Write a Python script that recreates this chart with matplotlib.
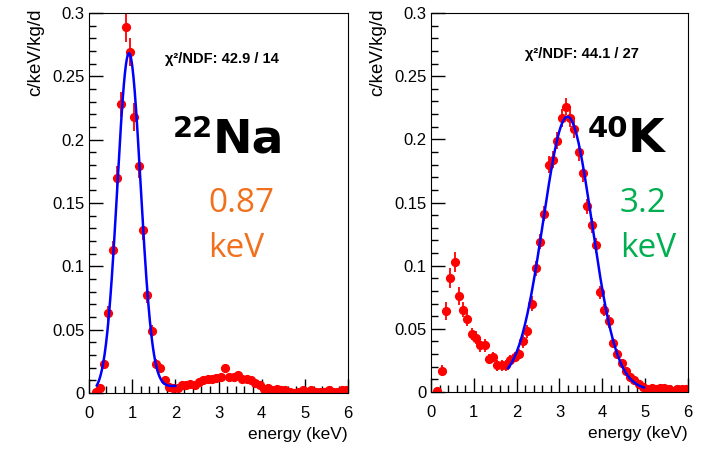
import numpy as np
import matplotlib.pyplot as plt
from matplotlib.ticker import MultipleLocator, FuncFormatter

# bin centres (0.1 keV bins)
energy = np.round(np.arange(0.15, 6.0, 0.1), 2)

na22_rate = [0.001, 0.004, 0.023, 0.063, 0.113, 0.170, 0.228, 0.289, 0.269, 0.218,
             0.179, 0.129, 0.077, 0.049, 0.023, 0.020, 0.010, 0.005, 0.004, 0.004,
             0.006, 0.006, 0.007, 0.006, 0.009, 0.010, 0.011, 0.011, 0.012, 0.013,
             0.020, 0.013, 0.013, 0.014, 0.011, 0.011, 0.010, 0.008, 0.006, 0.003,
             0.004, 0.002, 0.003, 0.002, 0.002, 0.001, 0.000, 0.001, 0.002, 0.001,
             0.002, 0.001, 0.001, 0.001, 0.002, 0.001, 0.001, 0.002, 0.002]
na22_err = [0.001, 0.002, 0.004, 0.006, 0.007, 0.009, 0.010, 0.012, 0.011, 0.011,
            0.009, 0.008, 0.006, 0.005, 0.004, 0.003, 0.002, 0.002, 0.002, 0.002,
            0.002, 0.002, 0.002, 0.002, 0.002, 0.002, 0.002, 0.002, 0.002, 0.002,
            0.003, 0.002, 0.002, 0.002, 0.002, 0.002, 0.002, 0.002, 0.002, 0.001,
            0.001, 0.001, 0.001, 0.001, 0.001, 0.001, 0.001, 0.001, 0.001, 0.001,
            0.001, 0.001, 0.001, 0.001, 0.001, 0.001, 0.001, 0.001, 0.001]

k40_rate = [0.001, 0.017, 0.064, 0.090, 0.103, 0.076, 0.065, 0.058, 0.046, 0.043,
            0.037, 0.037, 0.026, 0.028, 0.021, 0.021, 0.021, 0.025, 0.028, 0.030,
            0.040, 0.048, 0.070, 0.098, 0.119, 0.141, 0.180, 0.184, 0.199, 0.217,
            0.226, 0.217, 0.208, 0.190, 0.173, 0.147, 0.132, 0.116, 0.079, 0.065,
            0.056, 0.039, 0.030, 0.023, 0.017, 0.012, 0.0095, 0.006, 0.004, 0.002,
            0.003, 0.002, 0.003, 0.003, 0.002, 0.001, 0.002, 0.002, 0.002]
k40_err = [0.001, 0.004, 0.007, 0.008, 0.008, 0.007, 0.006, 0.006, 0.005, 0.005,
           0.005, 0.005, 0.004, 0.004, 0.004, 0.004, 0.004, 0.004, 0.004, 0.004,
           0.005, 0.005, 0.006, 0.006, 0.006, 0.006, 0.007, 0.007, 0.007, 0.007,
           0.007, 0.007, 0.007, 0.007, 0.007, 0.006, 0.006, 0.006, 0.005, 0.005,
           0.005, 0.004, 0.004, 0.003, 0.003, 0.002, 0.002, 0.002, 0.002, 0.001,
           0.001, 0.001, 0.001, 0.001, 0.001, 0.001, 0.001, 0.001, 0.001]

# gaussian + linear background fit parameters and fit range
na22_fit = dict(amp=0.266, mean=0.925, sigma=0.27, b0=-0.0005, b1=0.003, lo=0.18, hi=2.0)
k40_fit = dict(amp=0.2126, mean=3.19, sigma=0.57, b0=0.0114, b1=-0.0019, lo=1.8, hi=4.97)

panels = [
    dict(rate=na22_rate, err=na22_err, fit=na22_fit, chi="χ²/NDF: 42.9 / 14",
         mass="22", sym="Na", res="0.87", col="#F0701E",
         box=[0.1254, 0.1247, 0.3648, 0.8463], chi_xy=(0.293, 0.879),
         tag_x=0.479, res_x=0.459),
    dict(rate=k40_rate, err=k40_err, fit=k40_fit, chi="χ²/NDF: 44.1 / 27",
         mass="40", sym="K", res="3.2", col="#00B050",
         box=[0.6070, 0.1269, 0.3620, 0.8441], chi_xy=(0.366, 0.892),
         tag_x=0.767, res_x=0.735),
]

plt.rcParams['font.family'] = ['Liberation Sans', 'DejaVu Sans']

fig = plt.figure(figsize=(7.10, 4.49), dpi=100)


def fmt(v, pos):
    return f"{v:.2f}".rstrip('0').rstrip('.')


for p in panels:
    ax = fig.add_axes(p['box'])
    ax.errorbar(energy, p['rate'], yerr=p['err'], fmt='o', color='#FF0000', ms=5.6,
                elinewidth=1.3, capsize=0, zorder=2)
    f = p['fit']
    xf = np.linspace(f['lo'], f['hi'], 300)
    yf = f['amp'] * np.exp(-0.5 * ((xf - f['mean']) / f['sigma']) ** 2) + f['b0'] + f['b1'] * xf
    ax.plot(xf, yf, color='#0000FF', lw=1.8, zorder=3)

    ax.set_xlim(0, 6)
    ax.set_ylim(0, 0.3)
    ax.xaxis.set_major_locator(MultipleLocator(1))
    ax.xaxis.set_minor_locator(MultipleLocator(0.2))
    ax.yaxis.set_major_locator(MultipleLocator(0.05))
    ax.yaxis.set_minor_locator(MultipleLocator(0.01))
    ax.yaxis.set_major_formatter(FuncFormatter(fmt))
    ax.tick_params(which='both', direction='in', top=False, right=False,
                   labelsize=12, colors='black', width=1)
    ax.tick_params(which='major', length=10)
    ax.tick_params(axis='x', which='major', pad=9)
    ax.tick_params(axis='y', which='major', pad=3)
    ax.tick_params(which='minor', length=5)

    ax.set_ylabel("c/keV/kg/d", fontsize=13.5, ha='right', va='center')
    ax.yaxis.set_label_coords(-0.207, 1.013)
    ax.set_xlabel("energy (keV)", fontsize=12.5, ha='right', va='top')
    ax.xaxis.set_label_coords(1.0, -0.089)

    ax.text(*p['chi_xy'], p['chi'], transform=ax.transAxes, fontsize=10.5, fontweight='bold',
            ha='left', va='center')

    # isotope tag: mass number raised before the element symbol
    ax.text(p['tag_x'], 0.632, p['sym'], transform=ax.transAxes, fontsize=34,
            fontweight='bold', family='DejaVu Sans', ha='left', va='baseline')
    ax.text(p['tag_x'], 0.732, p['mass'], transform=ax.transAxes, fontsize=21,
            fontweight='bold', family='DejaVu Sans', ha='right', va='top')

    # energy resolution
    ax.text(p['res_x'], 0.476, p['res'], transform=ax.transAxes, fontsize=24,
            color=p['col'], family='Open Sans', ha='left', va='baseline')
    ax.text(p['res_x'], 0.357, "keV", transform=ax.transAxes, fontsize=24,
            color=p['col'], family='Open Sans', ha='left', va='baseline')

fig.savefig("out.png", dpi=100)
